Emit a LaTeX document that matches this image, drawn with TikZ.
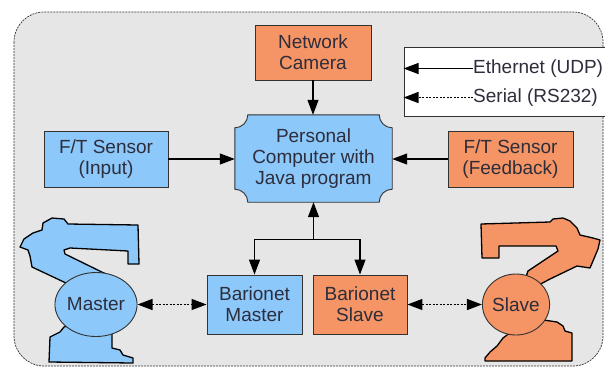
\documentclass[tikz,border=0pt]{standalone}
\usepackage{fontspec}
\setmainfont{Liberation Sans}
\usetikzlibrary{arrows.meta,calc,shapes.geometric}

\definecolor{panel}{RGB}{230,230,230}
\definecolor{skyfill}{RGB}{140,200,250}
\definecolor{orangefill}{RGB}{245,148,100}
\definecolor{boxline}{RGB}{50,50,50}
\definecolor{labelink}{RGB}{45,45,60}

\begin{document}
\begin{tikzpicture}[x=1pt,y=-1pt,
  labelfont/.style={font=\fontsize{19}{21}\selectfont,text=labelink},
  box/.style={draw=boxline,line width=0.9pt,align=center,labelfont,inner sep=0pt},
  bluebox/.style={box,fill=skyfill},
  orangebox/.style={box,fill=orangefill},
  link/.style={line width=1.1pt,-{Triangle[length=15pt,width=11pt]}},
  serial/.style={line width=1.4pt,dash pattern=on 2pt off 1.5pt},
  serialone/.style={serial,-{Triangle[length=15pt,width=11pt]}},
  serialtwo/.style={serial,{Triangle[length=15pt,width=11pt]}-{Triangle[length=15pt,width=11pt]}},
  robot/.style={draw=black,line width=1.3pt,line join=round},
  joint/.style={ellipse,draw=boxline,line width=0.9pt,labelfont,inner sep=0pt},
]
\useasboundingbox (0,0) rectangle (605,368);
\fill[white] (0,0) rectangle (605,368);

% grey panel with dashed rounded outline
\draw[fill=panel,draw=black!80,line width=0.7pt,dash pattern=on 2pt off 1pt,
      rounded corners=30pt] (14,12) rectangle (603,366);

% legend (runs off the right edge)
\node[draw=boxline,line width=0.9pt,fill=white,minimum width=230pt,
      minimum height=69pt,inner sep=0pt] (legend) at (519,81.5) {};
\node[anchor=west,inner sep=0pt,labelfont] (eth) at (473,68.5) {Ethernet (UDP)};
\node[anchor=west,inner sep=0pt,labelfont] (ser) at (473,97.5) {Serial (RS232)};
\coordinate (ethEnd) at (legend.west |- eth.west);
\coordinate (serEnd) at (legend.west |- ser.west);
\draw[link] (eth.west) -- (ethEnd);
\draw[serialone] (ser.west) -- (serEnd);

% master robot silhouette
\draw[robot,fill=skyfill]
  (43,223) -- (52,218) -- (64,219) -- (68,224) -- (138,225) -- (139,264)
  -- (128,264) -- (128,251) -- (70,248) -- (64,250) -- (65,254)
  -- (112,277) -- (100,300) -- (66,283) -- (32,267) -- (30,256)
  -- (28,250) -- (20,247) -- (24,239) -- (33,233) -- (42,230) -- cycle;
\draw[robot,fill=skyfill]
  (64,327) -- (60,332) -- (52,336) -- (50,337) -- (49,362) -- (133,363)
  -- (133,358) -- (123,355) -- (120,350) -- (112,348) -- (112,325)
  -- (90,320) -- cycle;

% slave robot silhouette
\draw[robot,fill=orangefill]
  (481,224) -- (550,222) -- (553,219) -- (563,218) -- (570,221) -- (577,228)
  -- (580,235) -- (593,238) -- (600,240) -- (598,249) -- (590,268)
  -- (577,266) -- (550,279) -- (520,295) -- (528,271) -- (552,255)
  -- (558,251) -- (556,246) -- (499,246) -- (499,258) -- (482,258) -- cycle;
\draw[robot,fill=orangefill]
  (503,338) -- (497,346) -- (490,352) -- (485,358) -- (485,361) -- (572,361)
  -- (572,333) -- (565,331) -- (563,326) -- (557,322) -- (530,318) -- cycle;

% joints
\node[joint,fill=skyfill,minimum width=76pt,minimum height=64pt] (master) at (96,304.5) {Master};
\node[joint,fill=orangefill,minimum width=67pt,minimum height=61pt] (slave) at (516,304.5) {Slave};

% boxes
\node[orangebox,minimum width=116pt,minimum height=55pt] (cam) at (313,52.5) {Network\\Camera};
\node[bluebox,minimum width=124pt,minimum height=56pt] (ftin) at (106,159) {F/T Sensor\\(Input)};
\node[orangebox,minimum width=125pt,minimum height=56pt] (ftfb) at (510.5,159) {F/T Sensor\\(Feedback)};
\node[bluebox,minimum width=95pt,minimum height=59pt] (bm) at (254.5,304.5) {Barionet\\Master};
\node[orangebox,minimum width=94pt,minimum height=59pt] (bs) at (360,304.5) {Barionet\\Slave};

% computer: plaque with concave corners
\node[minimum width=157pt,minimum height=87pt,inner sep=0pt] (pc) at (313.5,158.5) {};
\draw[fill=skyfill,draw=boxline,line width=0.9pt]
  ($(pc.north west)+(13,0)$) -- ($(pc.north east)+(-13,0)$)
  .. controls +(0,7.2) and +(-7.2,0) .. ($(pc.north east)+(0,13)$)
  -- ($(pc.south east)+(0,-13)$)
  .. controls +(-7.2,0) and +(0,-7.2) .. ($(pc.south east)+(-13,0)$)
  -- ($(pc.south west)+(13,0)$)
  .. controls +(0,-7.2) and +(7.2,0) .. ($(pc.south west)+(0,-13)$)
  -- ($(pc.north west)+(0,13)$)
  .. controls +(7.2,0) and +(0,7.2) .. ($(pc.north west)+(13,0)$) -- cycle;
\node[align=center,labelfont,inner sep=0pt] (pctext) at (pc.center) {Personal\\Computer with\\Java program};

% connections
\draw[link] (cam.south) -- (cam.south |- pc.north);
\draw[link] (ftin.east) -- (ftin.east -| pc.west);
\draw[link] (ftfb.west) -- (ftfb.west -| pc.east);
\coordinate (hub) at ($(pc.south)+(0,37)$);
\draw[link] (hub) -- (pc.south);
\draw[link] (hub) -| (bm.north);
\draw[link] (hub) -| (bs.north);
\draw[serialtwo] (master.east) -- (bm.west);
\draw[serialtwo] (bs.east) -- (slave.west);
\end{tikzpicture}
\end{document}
